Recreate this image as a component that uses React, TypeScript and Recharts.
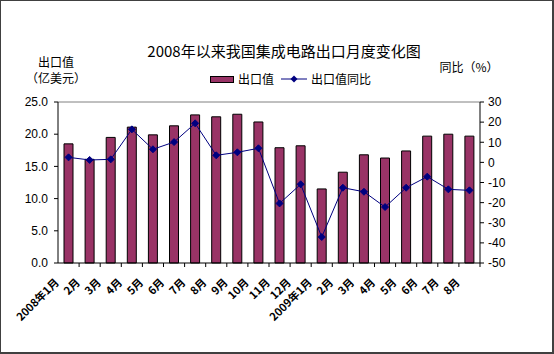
import { ComposedChart, Bar, Line, XAxis, YAxis, ReferenceLine } from 'recharts';

// 月份
const months = [
  '2008年1月', '2月', '3月', '4月', '5月', '6月', '7月', '8月', '9月', '10月', '11月', '12月',
  '2009年1月', '2月', '3月', '4月', '5月', '6月', '7月', '8月',
];
// 出口值（亿美元）
const exportValue = [
  18.5, 16.1, 19.5, 21.1, 19.9, 21.3, 23.0, 22.7, 23.1, 21.9, 17.9, 18.2,
  11.5, 14.1, 16.8, 16.3, 17.4, 19.7, 20.0, 19.7,
];
// 同比（%）
const yoy = [
  2.5, 1.2, 1.5, 16.4, 6.5, 10.1, 19.4, 3.5, 5.0, 7.0, -20.4, -10.9,
  -37.1, -12.6, -14.6, -22.2, -12.6, -7.1, -13.4, -13.9,
];
const leftTicks = [0, 5, 10, 15, 20, 25];
const rightTicks = [-50, -40, -30, -20, -10, 0, 10, 20, 30];

const data = months.map((m, i) => ({ month: m, value: exportValue[i], yoy: yoy[i] }));

const FONT = '"Liberation Sans", Arial, "Noto Sans CJK SC", sans-serif';
const CJK = '"Noto Sans CJK SC", "Liberation Sans", sans-serif';
const BAR = '#993366';
const NAVY = '#000080';

const STEP = 422 / months.length;

function MonthTick(props: any) {
  const { x, y, payload } = props;
  return (
    <g>
      <line x1={x + STEP / 2} y1={y} x2={x + STEP / 2} y2={y + 4} stroke="#000" />
      <text
        x={0}
        y={0}
        transform={`translate(${x - 11},${y + 18}) rotate(-45)`}
        textAnchor="end"
        dominantBaseline="middle"
        fontSize={11}
        fontWeight="bold"
        fontFamily={CJK}
        fill="#000"
      >
        {payload.value}
      </text>
    </g>
  );
}

function Diamond(props: any) {
  const { cx, cy } = props;
  if (cx == null || cy == null) return null;
  const r = 3.5;
  return (
    <path
      d={`M${cx},${cy - r} L${cx + r},${cy} L${cx},${cy + r} L${cx - r},${cy} Z`}
      fill={NAVY}
      stroke={NAVY}
    />
  );
}

export default function App() {
  return (
    <div
      style={{
        position: 'absolute',
        left: 0,
        top: 0,
        width: 554,
        height: 354,
        background: '#fff',
        boxSizing: 'border-box',
        borderTop: '1px solid #404040',
        borderLeft: '1px solid #404040',
        borderRight: '2px solid #404040',
        borderBottom: '2px solid #404040',
        fontFamily: CJK,
      }}
    >
      <div style={{ position: 'absolute', left: 0, top: 0 }}>
        <ComposedChart
          width={554}
          height={354}
          data={data}
          margin={{ top: 101, right: 0, bottom: 0, left: 0 }}
          barSize={9}
        >
          <XAxis
            dataKey="month"
            xAxisId="x"
            height={92}
            interval={0}
            tickLine={false}
            tickSize={0}
            tickMargin={0}
            axisLine={{ stroke: '#000' }}
            tick={<MonthTick />}
          />
          <YAxis
            yAxisId="left"
            width={57}
            domain={[0, 25]}
            ticks={leftTicks}
            tickFormatter={(v: number) => v.toFixed(1)}
            axisLine={{ stroke: '#000' }}
            tickLine={{ stroke: '#000' }}
            tickSize={4}
            tickMargin={6}
            tick={{ fontSize: 12, fill: '#000', fontFamily: FONT }}
          />
          <YAxis
            yAxisId="right"
            orientation="right"
            width={75}
            domain={[-50, 30]}
            ticks={rightTicks}
            axisLine={{ stroke: '#000' }}
            tickLine={{ stroke: '#000' }}
            tickSize={4}
            tickMargin={4}
            tick={{ fontSize: 12, fill: '#000', fontFamily: FONT, textAnchor: 'start' }}
          />
          <ReferenceLine yAxisId="left" xAxisId="x" y={25} stroke="#808080" />
          <Bar
            dataKey="value"
            xAxisId="x"
            yAxisId="left"
            fill={BAR}
            stroke="#000"
            strokeWidth={1}
            isAnimationActive={false}
          />
          <Line
            dataKey="yoy"
            xAxisId="x"
            yAxisId="right"
            type="linear"
            stroke={NAVY}
            strokeWidth={1}
            dot={<Diamond />}
            activeDot={false}
            isAnimationActive={false}
          />
        </ComposedChart>
      </div>

      <div style={{ position: 'absolute', left: 0, width: 566, top: 39, textAlign: 'center', fontSize: 15, color: '#000' }}>
        2008年以来我国集成电路出口月度变化图
      </div>
      <div style={{ position: 'absolute', left: 25, width: 60, top: 53, textAlign: 'center', fontSize: 12, lineHeight: '16px', color: '#000' }}>
        出口值
        <br />
        （亿美元）
      </div>
      <div style={{ position: 'absolute', left: 428, width: 80, top: 57, textAlign: 'center', fontSize: 12, color: '#000' }}>
        同比（%）
      </div>

      <div style={{ position: 'absolute', left: 209, top: 70, display: 'flex', alignItems: 'center', fontSize: 12, color: '#000', lineHeight: '16px' }}>
        <span style={{ display: 'inline-block', width: 24, height: 7, background: BAR, border: '1px solid #000', boxSizing: 'border-box' }} />
        <span style={{ marginLeft: 4 }}>出口值</span>
        <svg width={26} height={10} style={{ marginLeft: 7 }}>
          <line x1={0} y1={5} x2={26} y2={5} stroke={NAVY} strokeWidth={1} />
          <path d="M13,1.5 L16.5,5 L13,8.5 L9.5,5 Z" fill={NAVY} />
        </svg>
        <span style={{ marginLeft: 4 }}>出口值同比</span>
      </div>
    </div>
  );
}
